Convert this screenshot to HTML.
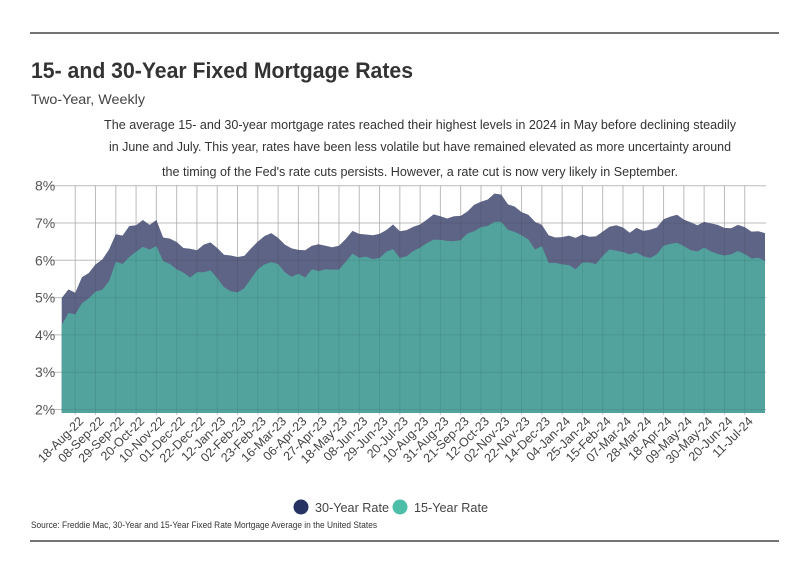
<!DOCTYPE html>
<html><head><meta charset="utf-8">
<style>
body{margin:0;background:#fff;width:799px;height:575px;overflow:hidden;font-family:"Liberation Sans",sans-serif;}
svg text{font-family:"Liberation Sans",sans-serif;}
</style></head>
<body>
<svg id="chart" width="799" height="575" xmlns="http://www.w3.org/2000/svg">
<line x1="30" y1="33" x2="779" y2="33" stroke="#222" stroke-width="1.2"/>
<text x="31" y="78" font-size="22" font-weight="bold" fill="#333" textLength="382" lengthAdjust="spacingAndGlyphs">15- and 30-Year Fixed Mortgage Rates</text>
<text x="31" y="104" font-size="14" fill="#444" textLength="114" lengthAdjust="spacingAndGlyphs">Two-Year, Weekly</text>
<g font-size="13" fill="#333" text-anchor="middle">
<text x="420" y="129" textLength="632" lengthAdjust="spacingAndGlyphs">The average 15- and 30-year mortgage rates reached their highest levels in 2024 in May before declining steadily</text>
<text x="420" y="151" textLength="622" lengthAdjust="spacingAndGlyphs">in June and July. This year, rates have been less volatile but have remained elevated as more uncertainty around</text>
<text x="420" y="176" textLength="516" lengthAdjust="spacingAndGlyphs">the timing of the Fed's rate cuts persists. However, a rate cut is now very likely in September.</text>
</g>
<g id="grid"></g>
<g id="areas"></g>
<g id="gridover"></g>
<g id="yaxis"></g>
<g id="xaxis"></g>
<g>
<g><circle cx="301" cy="507" r="7.5" fill="#253262"/><text x="315" y="512" font-size="13" fill="#444" textLength="74" lengthAdjust="spacingAndGlyphs">30-Year Rate</text></g>
<g><circle cx="400" cy="507" r="7.5" fill="#4dbfa8"/><text x="414" y="512" font-size="13" fill="#444" textLength="74" lengthAdjust="spacingAndGlyphs">15-Year Rate</text></g>
</g>
<text x="31" y="528" font-size="9" fill="#333" textLength="346" lengthAdjust="spacingAndGlyphs">Source:  Freddie Mac, 30-Year  and 15-Year Fixed Rate Mortgage Average in the United States</text>
<line x1="30" y1="541" x2="779" y2="541" stroke="#222" stroke-width="1.2"/>
</svg>
<script>
const rate30=[4.99,5.22,5.13,5.55,5.66,5.89,6.02,6.29,6.70,6.66,6.92,6.94,7.08,6.95,7.08,6.61,6.58,6.49,6.33,6.31,6.27,6.42,6.48,6.33,6.15,6.13,6.09,6.12,6.32,6.50,6.65,6.73,6.60,6.42,6.32,6.28,6.27,6.39,6.43,6.39,6.35,6.39,6.57,6.79,6.71,6.69,6.67,6.71,6.81,6.96,6.78,6.81,6.90,6.96,7.09,7.23,7.18,7.12,7.18,7.19,7.31,7.49,7.57,7.63,7.79,7.76,7.50,7.44,7.29,7.22,7.03,6.95,6.67,6.61,6.62,6.66,6.60,6.69,6.63,6.64,6.77,6.90,6.94,6.88,6.74,6.87,6.79,6.82,6.88,7.10,7.17,7.22,7.09,7.02,6.94,7.03,6.99,6.95,6.87,6.86,6.95,6.89,6.77,6.78,6.73];
const rate15=[4.26,4.59,4.55,4.85,4.98,5.16,5.21,5.44,5.96,5.90,6.09,6.23,6.36,6.29,6.38,5.98,5.90,5.76,5.67,5.54,5.68,5.68,5.73,5.52,5.28,5.17,5.14,5.25,5.51,5.76,5.89,5.95,5.90,5.68,5.56,5.64,5.54,5.76,5.71,5.76,5.75,5.75,5.96,6.18,6.07,6.10,6.03,6.06,6.23,6.30,6.06,6.11,6.25,6.34,6.46,6.55,6.55,6.52,6.51,6.54,6.72,6.78,6.89,6.92,7.03,7.03,6.82,6.76,6.67,6.56,6.29,6.38,5.93,5.93,5.89,5.87,5.76,5.94,5.94,5.90,6.12,6.29,6.26,6.22,6.16,6.21,6.11,6.06,6.16,6.39,6.44,6.47,6.38,6.27,6.24,6.34,6.24,6.17,6.13,6.16,6.25,6.17,6.05,6.07,5.99];
const yTicks=[2,3,4,5,6,7,8];
const xLabels=["18-Aug-22","08-Sep-22","29-Sep-22","20-Oct-22","10-Nov-22","01-Dec-22","22-Dec-22","12-Jan-23","02-Feb-23","23-Feb-23","16-Mar-23","06-Apr-23","27-Apr-23","18-May-23","08-Jun-23","29-Jun-23","20-Jul-23","10-Aug-23","31-Aug-23","21-Sep-23","12-Oct-23","02-Nov-23","22-Nov-23","14-Dec-23","04-Jan-24","25-Jan-24","15-Feb-24","07-Mar-24","28-Mar-24","18-Apr-24","09-May-24","30-May-24","20-Jun-24","11-Jul-24"];
const labelIndex=[2,5,8,11,14,17,20,23,26,29,32,35,38,41,44,47,50,53,56,59,62,65,68,71,74,77,80,83,86,89,92,95,98,101];

const NS="http://www.w3.org/2000/svg";
const X0=61.7,X1=765,Y8=185.7,PX=37.3,BOTTOM=413,N=rate30.length;
const xs=i=>X0+(X1-X0)*i/(N-1);
const ys=v=>Y8+(8-v)*PX;
function mk(tag,attrs,parent){const e=document.createElementNS(NS,tag);for(const k in attrs)e.setAttribute(k,attrs[k]);parent.appendChild(e);return e;}
const grid=document.getElementById('grid'),over=document.getElementById('gridover'),areas=document.getElementById('areas'),ya=document.getElementById('yaxis'),xa=document.getElementById('xaxis');
yTicks.forEach(t=>{
  const l=mk('line',{x1:50,x2:766,y1:ys(t),y2:ys(t),stroke:'#ccc','stroke-width':1},grid);
  
  
  const l2=mk('line',{x1:50,x2:766,y1:ys(t),y2:ys(t),stroke:'#000','stroke-opacity':0.08,'stroke-width':1},over);
  
  
  const tx=mk('text',{x:35,y:ys(t)+5,'font-size':14,fill:'#555'},ya);
  tx.textContent=t+'%';
  
  
});
labelIndex.forEach((idx,k)=>{
  const x=xs(idx);
  const l=mk('line',{x1:x,x2:x,y1:ys(8),y2:BOTTOM+2,stroke:'#ccc','stroke-width':1},grid);
  
  
  const l2=mk('line',{x1:x,x2:x,y1:ys(8),y2:BOTTOM,stroke:'#000','stroke-opacity':0.08,'stroke-width':1},over);
  
  
  const tx=mk('text',{x:0,y:0,'font-size':12.5,fill:'#444','text-anchor':'end',transform:`translate(${x+9},${BOTTOM+9}) rotate(-45)`},xa);
  tx.textContent=xLabels[k];
  
  
});
function area(vals,fill,name){
  let d=`M${xs(0)},${BOTTOM}`;
  vals.forEach((v,i)=>{d+=` L${xs(i).toFixed(2)},${ys(v).toFixed(2)}`;});
  d+=` L${xs(N-1)},${BOTTOM} Z`;
  const p=mk('path',{d:d,fill:fill},areas);
  
  
}
area(rate30,'#5e6485','area-30-year-rate');
area(rate15,'#52a39e','area-15-year-rate');
</script>
</body></html>
